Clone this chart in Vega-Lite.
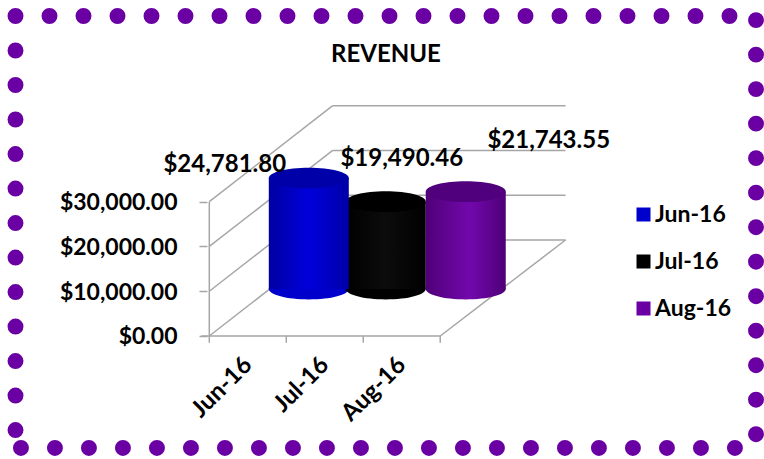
{"$schema":"https://vega.github.io/schema/vega-lite/v6.json","width":764,"height":459,"padding":0,"autosize":"none","background":"#ffffff","config":{"view":{"stroke":null},"font":"Lato"},"title":{"text":"REVENUE","font":"Lato","fontSize":24,"fontWeight":"bold","color":"#000000","anchor":"middle","dx":4,"dy":71},"datasets":{"revenue":[{"month":"Jun-16","idx":1,"revenue":24781.8},{"month":"Jul-16","idx":2,"revenue":19490.46},{"month":"Aug-16","idx":3,"revenue":21743.55}],"walls":[{"x0":0.5,"y0":0,"x1":2.103,"y1":21443},{"x0":0.5,"y0":10000,"x1":2.103,"y1":31443},{"x0":0.5,"y0":20000,"x1":2.103,"y1":41443},{"x0":0.5,"y0":30000,"x1":2.103,"y1":51443},{"x0":2.103,"y0":21443,"x1":5.128,"y1":21443},{"x0":2.103,"y0":31443,"x1":5.128,"y1":31443},{"x0":2.103,"y0":41443,"x1":5.128,"y1":41443},{"x0":2.103,"y0":51443,"x1":5.128,"y1":51443},{"x0":3.5,"y0":0,"x1":5.128,"y1":21443},{"x0":0.397,"y0":0,"x1":3.5,"y1":0},{"x0":0.5,"y0":0,"x1":0.5,"y1":30000},{"x0":0.5,"y0":0,"x1":0.5,"y1":-1500},{"x0":1.5,"y0":0,"x1":1.5,"y1":-1500},{"x0":2.5,"y0":0,"x1":2.5,"y1":-1500},{"x0":3.5,"y0":0,"x1":3.5,"y1":-1500}],"frame":[{"col":0,"row":0},{"col":1,"row":0},{"col":2,"row":0},{"col":3,"row":0},{"col":4,"row":0},{"col":5,"row":0},{"col":6,"row":0},{"col":7,"row":0},{"col":8,"row":0},{"col":9,"row":0},{"col":10,"row":0},{"col":11,"row":0},{"col":12,"row":0},{"col":13,"row":0},{"col":14,"row":0},{"col":15,"row":0},{"col":16,"row":0},{"col":17,"row":0},{"col":18,"row":0},{"col":19,"row":0},{"col":20,"row":0},{"col":21,"row":0},{"col":0,"row":1},{"col":0,"row":2},{"col":0,"row":3},{"col":0,"row":4},{"col":0,"row":5},{"col":0,"row":6},{"col":0,"row":7},{"col":0,"row":8},{"col":0,"row":9},{"col":0,"row":10},{"col":0,"row":11},{"col":0,"row":12},{"col":21.78,"row":0.12},{"col":21.78,"row":1.12},{"col":21.78,"row":2.12},{"col":21.78,"row":3.12},{"col":21.78,"row":4.12},{"col":21.78,"row":5.12},{"col":21.78,"row":6.12},{"col":21.78,"row":7.12},{"col":21.78,"row":8.12},{"col":21.78,"row":9.12},{"col":21.78,"row":10.12},{"col":21.78,"row":11.12},{"col":21.78,"row":12.12},{"col":0.16,"row":12.52},{"col":1.16,"row":12.52},{"col":2.16,"row":12.52},{"col":3.16,"row":12.52},{"col":4.16,"row":12.52},{"col":5.16,"row":12.52},{"col":6.16,"row":12.52},{"col":7.16,"row":12.52},{"col":8.16,"row":12.52},{"col":9.16,"row":12.52},{"col":10.16,"row":12.52},{"col":11.16,"row":12.52},{"col":12.16,"row":12.52},{"col":13.16,"row":12.52},{"col":14.16,"row":12.52},{"col":15.16,"row":12.52},{"col":16.16,"row":12.52},{"col":17.16,"row":12.52},{"col":18.16,"row":12.52},{"col":19.16,"row":12.52},{"col":20.16,"row":12.52},{"col":21.16,"row":12.52}]},"data":{"name":"revenue"},"resolve":{"scale":{"x":"independent","y":"independent"}},"layer":[{"data":{"name":"frame"},"mark":{"type":"point","filled":true,"opacity":1,"size":254,"color":"#6a00a3"},"encoding":{"x":{"field":"col","type":"quantitative","axis":null,"scale":{"domain":[-0.456,22.015],"nice":false,"zero":false}},"y":{"field":"row","type":"quantitative","axis":null,"scale":{"domain":[-0.464,12.84],"range":[0,459],"nice":false,"zero":false}}}},{"encoding":{"x":{"field":"idx","type":"quantitative","scale":{"domain":[-2.154,7.641],"nice":false,"zero":false},"axis":{"values":[1,2,3],"labelExpr":"datum.value==1?'Jun-16':datum.value==2?'Jul-16':'Aug-16'","title":null,"domain":false,"grid":false,"ticks":false,"offset":-123,"labelAngle":-45,"labelAlign":"right","labelBaseline":"middle","labelFont":"Lato","labelFontWeight":"bold","labelFontSize":24,"labelColor":"#000000","labelPadding":25,"labelOverlap":false,"labelBound":false,"labelFlush":false}},"y":{"field":"revenue","type":"quantitative","scale":{"domain":[-27474,75050],"nice":false,"zero":false},"axis":{"values":[0,10000,20000,30000],"format":"$,.2f","title":null,"domain":false,"grid":false,"offset":-207,"tickSize":8,"tickColor":"#a6a6a6","tickWidth":1.5,"labelFont":"Lato","labelFontWeight":"bold","labelFontSize":23,"labelColor":"#000000","labelPadding":22,"labelOffset":1,"labelOverlap":false}}},"layer":[{"data":{"name":"walls"},"mark":{"type":"rule","color":"#a6a6a6","strokeWidth":1.5},"encoding":{"x":{"field":"x0","type":"quantitative"},"x2":{"field":"x1"},"y":{"field":"y0","type":"quantitative"},"y2":{"field":"y1"}}},{"transform":[{"filter":"datum.month!='Aug-16'"}],"mark":{"type":"point","filled":true,"opacity":1,"size":6400,"shape":"M-1,0 A1,0.26 0 1 0 1,0 A1,0.26 0 1 0 -1,0 Z","xOffset":61,"yOffset":-47},"encoding":{"y":{"datum":0,"type":"quantitative"},"color":{"field":"month","type":"nominal","scale":{"domain":["Jun-16","Jul-16","Aug-16"],"range":["#0000cc","#000000","#6a00a3"]},"legend":{"title":null,"orient":"none","legendX":632,"legendY":203,"symbolType":"square","symbolSize":196,"symbolOpacity":1,"symbolStrokeWidth":0,"labelFont":"Lato","labelFontWeight":"bold","labelFontSize":23,"labelColor":"#000000","labelOffset":0,"rowPadding":23,"labelOverlap":false}}}},{"transform":[{"filter":"datum.month=='Jul-16'"}],"layer":[{"mark":{"type":"bar","size":80,"xOffset":61,"yOffset":-47,"y2Offset":-47,"color":{"gradient":"linear","x1":0,"x2":1,"y1":0,"y2":0,"stops":[{"offset":0,"color":"#000000"},{"offset":0.5,"color":"#0c0c0c"},{"offset":1,"color":"#000000"}]}}},{"mark":{"type":"point","filled":true,"opacity":1,"size":6400,"color":"#000000","shape":"M-1,0 A1,0.26 0 1 0 1,0 A1,0.26 0 1 0 -1,0 Z","xOffset":61,"yOffset":-47}},{"mark":{"type":"text","font":"Lato","fontWeight":"bold","fontSize":24,"color":"#000000","dx":77,"dy":-90},"encoding":{"text":{"field":"revenue","type":"quantitative","format":"$,.2f"}}}]},{"transform":[{"filter":"datum.month=='Jun-16'"}],"layer":[{"mark":{"type":"bar","size":80,"xOffset":61,"yOffset":-47,"y2Offset":-47,"color":{"gradient":"linear","x1":0,"x2":1,"y1":0,"y2":0,"stops":[{"offset":0,"color":"#0000a0"},{"offset":0.5,"color":"#0000dc"},{"offset":1,"color":"#0000a8"}]}}},{"mark":{"type":"point","filled":true,"opacity":1,"size":6400,"color":"#0000a8","shape":"M-1,0 A1,0.26 0 1 0 1,0 A1,0.26 0 1 0 -1,0 Z","xOffset":61,"yOffset":-47}},{"mark":{"type":"text","font":"Lato","fontWeight":"bold","fontSize":24,"color":"#000000","dx":-23,"dy":-60},"encoding":{"text":{"field":"revenue","type":"quantitative","format":"$,.2f"}}}]},{"transform":[{"filter":"datum.month=='Aug-16'"}],"layer":[{"mark":{"type":"point","filled":true,"opacity":1,"size":6400,"color":{"gradient":"linear","x1":0,"x2":1,"y1":0,"y2":0,"stops":[{"offset":0,"color":"#4f0078"},{"offset":0.55,"color":"#7208ac"},{"offset":1,"color":"#4f0078"}]},"shape":"M-1,0 A1,0.26 0 1 0 1,0 A1,0.26 0 1 0 -1,0 Z","xOffset":64,"yOffset":-47},"encoding":{"y":{"datum":0,"type":"quantitative"}}},{"mark":{"type":"bar","size":80,"xOffset":64,"yOffset":-47,"y2Offset":-47,"color":{"gradient":"linear","x1":0,"x2":1,"y1":0,"y2":0,"stops":[{"offset":0,"color":"#4f0078"},{"offset":0.55,"color":"#7208ac"},{"offset":1,"color":"#4f0078"}]}}},{"mark":{"type":"point","filled":true,"opacity":1,"size":6400,"color":"#50007c","shape":"M-1,0 A1,0.26 0 1 0 1,0 A1,0.26 0 1 0 -1,0 Z","xOffset":64,"yOffset":-47}},{"mark":{"type":"text","font":"Lato","fontWeight":"bold","fontSize":24,"color":"#000000","dx":147,"dy":-98},"encoding":{"text":{"field":"revenue","type":"quantitative","format":"$,.2f"}}}]}]}]}
